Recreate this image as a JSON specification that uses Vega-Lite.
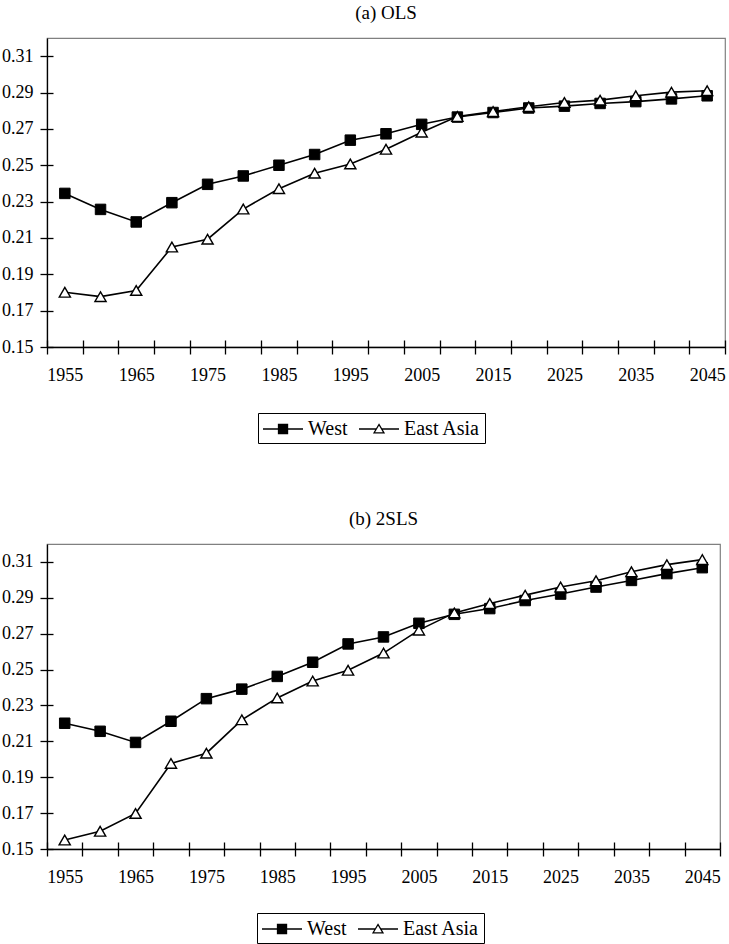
{
  "$schema": "https://vega.github.io/schema/vega-lite/v6.json",
  "padding": {"top": 3, "left": 0, "right": 0, "bottom": 0},
  "background": "white",
  "spacing": 64,
  "datasets": {
    "rows": [
      {"m": "OLS", "year": 1955, "series": "West", "v": 0.2345},
      {"m": "OLS", "year": 1960, "series": "West", "v": 0.2257},
      {"m": "OLS", "year": 1965, "series": "West", "v": 0.2188},
      {"m": "OLS", "year": 1970, "series": "West", "v": 0.2294},
      {"m": "OLS", "year": 1975, "series": "West", "v": 0.2395},
      {"m": "OLS", "year": 1980, "series": "West", "v": 0.2441},
      {"m": "OLS", "year": 1985, "series": "West", "v": 0.2500},
      {"m": "OLS", "year": 1990, "series": "West", "v": 0.2559},
      {"m": "OLS", "year": 1995, "series": "West", "v": 0.2638},
      {"m": "OLS", "year": 2000, "series": "West", "v": 0.2673},
      {"m": "OLS", "year": 2005, "series": "West", "v": 0.2725},
      {"m": "OLS", "year": 2010, "series": "West", "v": 0.2765},
      {"m": "OLS", "year": 2015, "series": "West", "v": 0.2790},
      {"m": "OLS", "year": 2020, "series": "West", "v": 0.2815},
      {"m": "OLS", "year": 2025, "series": "West", "v": 0.2825},
      {"m": "OLS", "year": 2030, "series": "West", "v": 0.2840},
      {"m": "OLS", "year": 2035, "series": "West", "v": 0.2850},
      {"m": "OLS", "year": 2040, "series": "West", "v": 0.2865},
      {"m": "OLS", "year": 2045, "series": "West", "v": 0.2882},
      {"m": "OLS", "year": 1955, "series": "East Asia", "v": 0.1801},
      {"m": "OLS", "year": 1960, "series": "East Asia", "v": 0.1777},
      {"m": "OLS", "year": 1965, "series": "East Asia", "v": 0.1811},
      {"m": "OLS", "year": 1970, "series": "East Asia", "v": 0.2050},
      {"m": "OLS", "year": 1975, "series": "East Asia", "v": 0.2093},
      {"m": "OLS", "year": 1980, "series": "East Asia", "v": 0.2259},
      {"m": "OLS", "year": 1985, "series": "East Asia", "v": 0.2371},
      {"m": "OLS", "year": 1990, "series": "East Asia", "v": 0.2456},
      {"m": "OLS", "year": 1995, "series": "East Asia", "v": 0.2507},
      {"m": "OLS", "year": 2000, "series": "East Asia", "v": 0.2588},
      {"m": "OLS", "year": 2005, "series": "East Asia", "v": 0.2682},
      {"m": "OLS", "year": 2010, "series": "East Asia", "v": 0.2768},
      {"m": "OLS", "year": 2015, "series": "East Asia", "v": 0.2795},
      {"m": "OLS", "year": 2020, "series": "East Asia", "v": 0.2822},
      {"m": "OLS", "year": 2025, "series": "East Asia", "v": 0.2845},
      {"m": "OLS", "year": 2030, "series": "East Asia", "v": 0.2858},
      {"m": "OLS", "year": 2035, "series": "East Asia", "v": 0.2882},
      {"m": "OLS", "year": 2040, "series": "East Asia", "v": 0.2902},
      {"m": "OLS", "year": 2045, "series": "East Asia", "v": 0.2910},
      {"m": "2SLS", "year": 1955, "series": "West", "v": 0.2201},
      {"m": "2SLS", "year": 1960, "series": "West", "v": 0.2156},
      {"m": "2SLS", "year": 1965, "series": "West", "v": 0.2094},
      {"m": "2SLS", "year": 1970, "series": "West", "v": 0.2212},
      {"m": "2SLS", "year": 1975, "series": "West", "v": 0.2338},
      {"m": "2SLS", "year": 1980, "series": "West", "v": 0.2391},
      {"m": "2SLS", "year": 1985, "series": "West", "v": 0.2462},
      {"m": "2SLS", "year": 1990, "series": "West", "v": 0.2541},
      {"m": "2SLS", "year": 1995, "series": "West", "v": 0.2643},
      {"m": "2SLS", "year": 2000, "series": "West", "v": 0.2682},
      {"m": "2SLS", "year": 2005, "series": "West", "v": 0.2758},
      {"m": "2SLS", "year": 2010, "series": "West", "v": 0.2808},
      {"m": "2SLS", "year": 2015, "series": "West", "v": 0.2840},
      {"m": "2SLS", "year": 2020, "series": "West", "v": 0.2885},
      {"m": "2SLS", "year": 2025, "series": "West", "v": 0.2921},
      {"m": "2SLS", "year": 2030, "series": "West", "v": 0.2960},
      {"m": "2SLS", "year": 2035, "series": "West", "v": 0.2997},
      {"m": "2SLS", "year": 2040, "series": "West", "v": 0.3035},
      {"m": "2SLS", "year": 2045, "series": "West", "v": 0.3068},
      {"m": "2SLS", "year": 1955, "series": "East Asia", "v": 0.1550},
      {"m": "2SLS", "year": 1960, "series": "East Asia", "v": 0.1599},
      {"m": "2SLS", "year": 1965, "series": "East Asia", "v": 0.1698},
      {"m": "2SLS", "year": 1970, "series": "East Asia", "v": 0.1977},
      {"m": "2SLS", "year": 1975, "series": "East Asia", "v": 0.2034},
      {"m": "2SLS", "year": 1980, "series": "East Asia", "v": 0.2220},
      {"m": "2SLS", "year": 1985, "series": "East Asia", "v": 0.2342},
      {"m": "2SLS", "year": 1990, "series": "East Asia", "v": 0.2436},
      {"m": "2SLS", "year": 1995, "series": "East Asia", "v": 0.2496},
      {"m": "2SLS", "year": 2000, "series": "East Asia", "v": 0.2592},
      {"m": "2SLS", "year": 2005, "series": "East Asia", "v": 0.2720},
      {"m": "2SLS", "year": 2010, "series": "East Asia", "v": 0.2816},
      {"m": "2SLS", "year": 2015, "series": "East Asia", "v": 0.2868},
      {"m": "2SLS", "year": 2020, "series": "East Asia", "v": 0.2915},
      {"m": "2SLS", "year": 2025, "series": "East Asia", "v": 0.2960},
      {"m": "2SLS", "year": 2030, "series": "East Asia", "v": 0.2995},
      {"m": "2SLS", "year": 2035, "series": "East Asia", "v": 0.3045},
      {"m": "2SLS", "year": 2040, "series": "East Asia", "v": 0.3085},
      {"m": "2SLS", "year": 2045, "series": "East Asia", "v": 0.3113}
    ]
  },
  "vconcat": [
    {
      "title": {"text": "(a) OLS"},
      "width": 678,
      "height": 309,
      "data": {"name": "rows"},
      "transform": [{"filter": "datum.m == 'OLS'"}],
      "layer": [
        {
          "mark": {"type": "line", "color": "black", "strokeWidth": 1.6},
          "encoding": {
            "x": {"field": "year", "type": "quantitative", "scale": {"domain": [1952.5, 2047.5], "nice": false, "zero": false},
                  "axis": {"orient": "bottom", "values": [1955, 1965, 1975, 1985, 1995, 2005, 2015, 2025, 2035, 2045], "format": "d", "ticks": false, "labelPadding": 19, "domain": true, "title": null}},
            "y": {"field": "v", "type": "quantitative", "scale": {"domain": [0.15, 0.32], "nice": false, "zero": false},
                  "axis": {"orient": "left", "values": [0.15, 0.17, 0.19, 0.21, 0.23, 0.25, 0.27, 0.29, 0.31], "format": ".2f", "tickSize": 7, "labelPadding": 7, "domain": true, "title": null}},
            "detail": {"field": "series"}
          }
        },
        {
          "transform": [{"filter": "datum.series == 'West'"}],
          "mark": {"type": "point", "shape": "square", "filled": true, "fill": "black", "stroke": "black", "strokeWidth": 1, "size": 110, "opacity": 1},
          "encoding": {
            "x": {"field": "year", "type": "quantitative",
                  "axis": {"orient": "bottom", "values": [1952.5, 1957.5, 1962.5, 1967.5, 1972.5, 1977.5, 1982.5, 1987.5, 1992.5, 1997.5, 2002.5, 2007.5, 2012.5, 2017.5, 2022.5, 2027.5, 2032.5, 2037.5, 2042.5, 2047.5], "labels": false, "tickSize": -7, "domain": false, "title": null}},
            "y": {"field": "v", "type": "quantitative",
                  "axis": {"orient": "left", "values": [0.15, 0.17, 0.19, 0.21, 0.23, 0.25, 0.27, 0.29, 0.31], "labels": false, "tickSize": -6, "domain": false, "title": null}}
          }
        },
        {
          "transform": [{"filter": "datum.series == 'East Asia'"}],
          "mark": {"type": "point", "shape": "triangle-up", "filled": true, "fill": "white", "stroke": "black", "strokeWidth": 1.4, "size": 125, "opacity": 1},
          "encoding": {
            "x": {"field": "year", "type": "quantitative",
                  "axis": {"orient": "bottom", "values": [1952.5, 1957.5, 1962.5, 1967.5, 1972.5, 1977.5, 1982.5, 1987.5, 1992.5, 1997.5, 2002.5, 2007.5, 2012.5, 2017.5, 2022.5, 2027.5, 2032.5, 2037.5, 2042.5, 2047.5], "labels": false, "tickSize": 7, "domain": false, "title": null}},
            "y": {"field": "v", "type": "quantitative", "axis": null}
          }
        },
        {
          "mark": {"type": "point", "filled": true, "strokeWidth": 1.3, "opacity": 0},
          "encoding": {
            "x": {"field": "year", "type": "quantitative", "axis": null},
            "y": {"field": "v", "type": "quantitative", "axis": null},
            "shape": {"field": "series", "type": "nominal",
                      "scale": {"domain": ["West", "East Asia"], "range": ["M-1,0H2.64M0.41,-0.41H1.23V0.41H0.41Z", "M-1,0H0.58M1.06,0H2.64M0.36,0.36L0.82,-0.41L1.27,0.36Z"]},
                      "legend": {"title": null, "orient": "none", "legendX": 211, "legendY": 375, "direction": "horizontal", "symbolStrokeColor": "black"}},
            "fill": {"field": "series", "type": "nominal",
                     "scale": {"domain": ["West", "East Asia"], "range": ["black", "white"]},
                     "legend": {"title": null, "orient": "none", "legendX": 211, "legendY": 375, "direction": "horizontal", "symbolStrokeColor": "black"}},
            "stroke": {"field": "series", "type": "nominal",
                     "scale": {"domain": ["West", "East Asia"], "range": ["black", "black"]},
                     "legend": {"title": null, "orient": "none", "legendX": 211, "legendY": 375, "direction": "horizontal", "symbolStrokeColor": "black"}}
          }
        }
      ],
      "resolve": {"axis": {"x": "independent", "y": "independent"}}
    },
    {
      "title": {"text": "(b) 2SLS"},
      "width": 673,
      "height": 305,
      "data": {"name": "rows"},
      "transform": [{"filter": "datum.m == '2SLS'"}],
      "layer": [
        {
          "mark": {"type": "line", "color": "black", "strokeWidth": 1.6},
          "encoding": {
            "x": {"field": "year", "type": "quantitative", "scale": {"domain": [1952.5, 2047.5], "nice": false, "zero": false},
                  "axis": {"orient": "bottom", "values": [1955, 1965, 1975, 1985, 1995, 2005, 2015, 2025, 2035, 2045], "format": "d", "ticks": false, "labelPadding": 19, "domain": true, "title": null}},
            "y": {"field": "v", "type": "quantitative", "scale": {"domain": [0.15, 0.32], "nice": false, "zero": false},
                  "axis": {"orient": "left", "values": [0.15, 0.17, 0.19, 0.21, 0.23, 0.25, 0.27, 0.29, 0.31], "format": ".2f", "tickSize": 7, "labelPadding": 7, "domain": true, "title": null}},
            "detail": {"field": "series"}
          }
        },
        {
          "transform": [{"filter": "datum.series == 'West'"}],
          "mark": {"type": "point", "shape": "square", "filled": true, "fill": "black", "stroke": "black", "strokeWidth": 1, "size": 110, "opacity": 1},
          "encoding": {
            "x": {"field": "year", "type": "quantitative",
                  "axis": {"orient": "bottom", "values": [1952.5, 1957.5, 1962.5, 1967.5, 1972.5, 1977.5, 1982.5, 1987.5, 1992.5, 1997.5, 2002.5, 2007.5, 2012.5, 2017.5, 2022.5, 2027.5, 2032.5, 2037.5, 2042.5, 2047.5], "labels": false, "tickSize": -7, "domain": false, "title": null}},
            "y": {"field": "v", "type": "quantitative",
                  "axis": {"orient": "left", "values": [0.15, 0.17, 0.19, 0.21, 0.23, 0.25, 0.27, 0.29, 0.31], "labels": false, "tickSize": -6, "domain": false, "title": null}}
          }
        },
        {
          "transform": [{"filter": "datum.series == 'East Asia'"}],
          "mark": {"type": "point", "shape": "triangle-up", "filled": true, "fill": "white", "stroke": "black", "strokeWidth": 1.4, "size": 125, "opacity": 1},
          "encoding": {
            "x": {"field": "year", "type": "quantitative",
                  "axis": {"orient": "bottom", "values": [1952.5, 1957.5, 1962.5, 1967.5, 1972.5, 1977.5, 1982.5, 1987.5, 1992.5, 1997.5, 2002.5, 2007.5, 2012.5, 2017.5, 2022.5, 2027.5, 2032.5, 2037.5, 2042.5, 2047.5], "labels": false, "tickSize": 7, "domain": false, "title": null}},
            "y": {"field": "v", "type": "quantitative", "axis": null}
          }
        },
        {
          "mark": {"type": "point", "filled": true, "strokeWidth": 1.3, "opacity": 0},
          "encoding": {
            "x": {"field": "year", "type": "quantitative", "axis": null},
            "y": {"field": "v", "type": "quantitative", "axis": null},
            "shape": {"field": "series", "type": "nominal",
                      "scale": {"domain": ["West", "East Asia"], "range": ["M-1,0H2.64M0.41,-0.41H1.23V0.41H0.41Z", "M-1,0H0.58M1.06,0H2.64M0.36,0.36L0.82,-0.41L1.27,0.36Z"]},
                      "legend": {"title": null, "orient": "none", "legendX": 210, "legendY": 369, "direction": "horizontal", "symbolStrokeColor": "black"}},
            "fill": {"field": "series", "type": "nominal",
                     "scale": {"domain": ["West", "East Asia"], "range": ["black", "white"]},
                     "legend": {"title": null, "orient": "none", "legendX": 210, "legendY": 369, "direction": "horizontal", "symbolStrokeColor": "black"}},
            "stroke": {"field": "series", "type": "nominal",
                     "scale": {"domain": ["West", "East Asia"], "range": ["black", "black"]},
                     "legend": {"title": null, "orient": "none", "legendX": 210, "legendY": 369, "direction": "horizontal", "symbolStrokeColor": "black"}}
          }
        }
      ],
      "resolve": {"axis": {"x": "independent", "y": "independent"}}
    }
  ],
  "resolve": {"scale": {"shape": "independent", "fill": "independent", "stroke": "independent"}, "legend": {"shape": "independent", "fill": "independent", "stroke": "independent"}},
  "config": {
    "font": "Liberation Serif",
    "view": {"stroke": "#808080", "strokeWidth": 1.2},
    "title": {"font": "Liberation Serif", "fontSize": 19, "fontWeight": "normal", "color": "black", "offset": 15, "anchor": "middle"},
    "axis": {"labelFont": "Liberation Serif", "labelFontSize": 18, "labelColor": "black", "domainColor": "black", "domainWidth": 1.3, "tickColor": "black", "tickWidth": 1.3, "grid": false, "labelAngle": 0},
    "legend": {"labelFont": "Liberation Serif", "labelFontSize": 20, "labelColor": "black", "symbolSize": 484, "symbolStrokeWidth": 1.3, "symbolStrokeColor": "black", "symbolOpacity": 1, "strokeColor": "black", "padding": 4, "columnPadding": 8, "labelOffset": 22}
  }
}
